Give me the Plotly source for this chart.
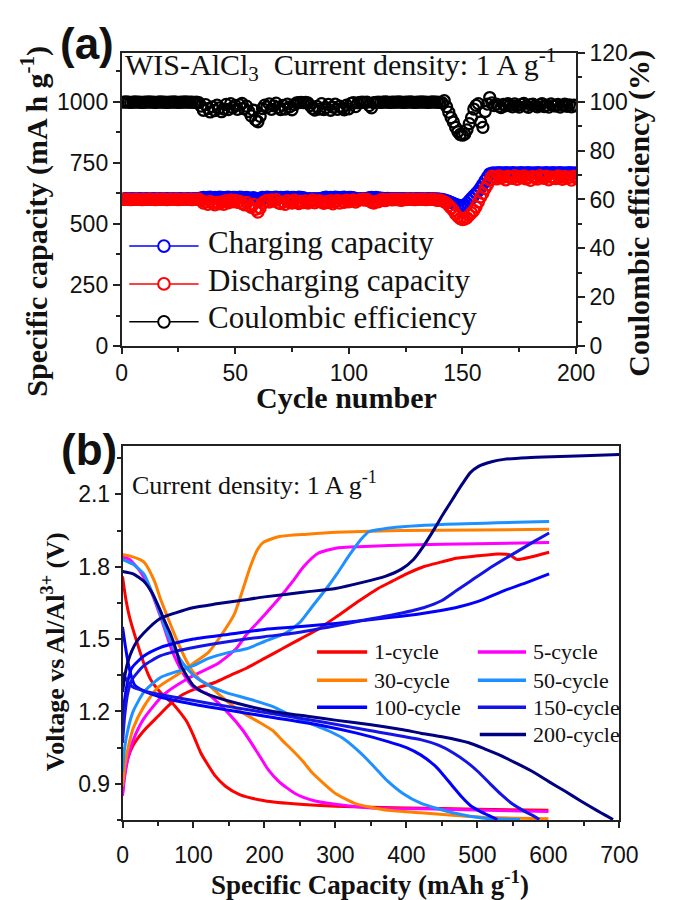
import plotly.graph_objects as go

W, H = 675, 900
def px(x): return x / W
def py(y): return 1 - y / H

# ---------------- Panel (a) data ----------------
cycles = list(range(1, 201))
charging_capacity = [
    602, 603, 602, 602, 603, 602, 602, 603, 602, 602,
    603, 602, 602, 603, 602, 602, 603, 602, 602, 603,
    602, 602, 603, 602, 602, 603, 602, 602, 603, 602,
    602, 603, 602, 603, 606, 608, 607, 608, 609, 607,
    608, 607, 609, 608, 607, 608, 609, 607, 608, 608,
    607, 609, 608, 607, 608, 606, 604, 607, 603, 600,
    605, 608, 607, 609, 608, 607, 608, 609, 607, 608,
    607, 608, 609, 607, 608, 608, 607, 609, 608, 607,
    603, 602, 603, 602, 603, 602, 603, 604, 607, 609,
    607, 608, 607, 609, 608, 607, 608, 609, 607, 608,
    608, 607, 603, 602, 603, 602, 603, 602, 607, 608,
    607, 608, 606, 605, 604, 603, 604, 603, 602, 603,
    602, 603, 602, 603, 602, 602, 603, 602, 602, 603,
    602, 603, 602, 602, 603, 602, 603, 602, 602, 601,
    600, 598, 595, 592, 588, 584, 580, 577, 575, 575,
    578, 585, 595, 605, 615, 625, 635, 648, 662, 678,
    692, 705, 708, 709, 708, 710, 709, 708, 710, 709,
    708, 710, 709, 708, 709, 710, 708, 709, 710, 708,
    709, 708, 710, 709, 708, 709, 710, 708, 709, 710,
    708, 709, 710, 708, 709, 708, 710, 709, 708, 709,
]
discharging_capacity = [
    600, 601, 600, 599, 600, 601, 600, 600, 599, 600,
    600, 601, 600, 600, 599, 600, 601, 600, 600, 599,
    600, 600, 601, 600, 599, 600, 600, 601, 600, 600,
    599, 600, 600, 601, 596, 585, 590, 580, 592, 584,
    578, 588, 582, 590, 580, 595, 586, 598, 590, 596,
    588, 592, 583, 578, 588, 575, 568, 580, 560, 548,
    565, 585, 592, 596, 589, 598, 593, 599, 586, 583,
    590, 580, 595, 588, 585, 597, 590, 583, 592, 587,
    594, 585, 590, 598, 586, 592, 595, 588, 584, 591,
    587, 595, 582, 590, 596, 585, 593, 588, 597, 590,
    594, 598, 589, 596, 599, 600, 597, 600, 594, 588,
    585, 592, 590, 598, 600, 595, 599, 600, 598, 600,
    599, 600, 596, 600, 599, 600, 601, 600, 599, 600,
    600, 601, 600, 599, 600, 600, 601, 599, 596, 598,
    595, 590, 585, 575, 565, 555, 540, 530, 522, 518,
    520, 525, 535, 545, 555, 570, 590, 610, 625, 645,
    660, 680, 695, 690, 684, 696, 688, 692, 680, 695,
    690, 686, 697, 682, 693, 688, 696, 684, 691, 678,
    694, 689, 683, 697, 690, 686, 695, 680, 692, 688,
    685, 696, 690, 682, 694, 687, 691, 679, 695, 688,
]
coulombic_efficiency = [
    99.8, 99.9, 99.8, 99.7, 99.8, 99.9, 99.8, 99.8, 99.7, 99.8,
    99.8, 99.9, 99.8, 99.8, 99.7, 99.8, 99.9, 99.8, 99.8, 99.7,
    99.8, 99.8, 99.9, 99.8, 99.7, 99.8, 99.8, 99.9, 99.8, 99.8,
    99.8, 99.7, 99.8, 99.6, 98.2, 96.5, 98.8, 97.2, 95.8, 97.9,
    96.4, 98.6, 97.5, 95.9, 97.0, 98.9, 96.8, 99.2, 97.6, 98.5,
    96.9, 98.7, 99.3, 97.1, 98.2, 96.0, 94.2, 96.5, 92.5, 91.8,
    94.0, 97.2, 98.6, 97.8, 99.1, 96.9, 98.3, 99.4, 97.7, 96.8,
    98.5, 97.0, 99.0, 97.9, 96.7, 98.8, 99.5, 99.6, 99.7, 99.6,
    99.7, 99.5, 98.4, 97.3, 96.6, 98.1, 97.0, 99.2, 96.8, 97.6,
    98.9, 96.5, 97.8, 99.0, 96.9, 98.2, 97.4, 96.7, 98.6, 97.1,
    99.3, 99.6, 98.0, 99.5, 99.7, 99.8, 99.7, 99.8, 98.4, 97.5,
    99.6, 99.7, 99.8, 99.7, 99.8, 99.9, 99.8, 99.7, 99.8, 99.8,
    99.8, 99.9, 99.8, 99.7, 99.8, 99.8, 99.9, 99.8, 99.7, 99.8,
    99.8, 99.9, 99.8, 99.8, 99.7, 99.8, 99.9, 99.8, 99.8, 99.7,
    99.6, 100.4, 98.0, 95.7, 93.5, 91.7, 89.5, 87.7, 86.6, 86.3,
    86.8, 88.5, 91.0, 93.5, 97.0, 98.5, 99.2, 91.7, 89.5, 96.0,
    99.0, 101.7, 99.5, 98.4, 99.0, 98.1, 97.6, 98.9, 98.3, 99.2,
    98.6, 97.9, 99.1, 98.4, 97.8, 98.9, 99.3, 98.2, 97.7, 98.8,
    99.0, 98.3, 97.9, 98.7, 99.2, 98.0, 98.6, 97.8, 99.1, 98.4,
    98.2, 98.9, 97.8, 98.5, 99.0, 98.1, 98.7, 97.9, 98.6, 98.3,
]

# ---------------- Panel (b) data ----------------
c1_chg_cap = [0, 3, 8, 15, 30, 50, 67, 85, 108, 130, 152, 175, 200, 225, 250, 275, 300, 334, 360, 380, 400, 424, 450, 470, 500, 528, 545, 556, 575, 601]
c1_chg_v = [0.86, 0.94, 1.01, 1.06, 1.12, 1.18, 1.23, 1.27, 1.30, 1.32, 1.35, 1.38, 1.42, 1.46, 1.50, 1.54, 1.59, 1.66, 1.71, 1.74, 1.77, 1.80, 1.82, 1.835, 1.845, 1.853, 1.85, 1.83, 1.84, 1.86]
c1_dis_cap = [0, 5, 10, 20, 30, 40, 50, 60, 70, 80, 90, 100, 110, 120, 130, 145, 165, 200, 250, 300, 400, 500, 600]
c1_dis_v = [1.76, 1.66, 1.59, 1.49, 1.40, 1.33, 1.29, 1.26, 1.235, 1.20, 1.16, 1.10, 1.03, 0.98, 0.935, 0.89, 0.855, 0.83, 0.815, 0.807, 0.80, 0.795, 0.79]

c5_chg_cap = [0, 3, 8, 15, 30, 58, 94, 135, 160, 175, 200, 221, 240, 255, 275, 302, 350, 400, 500, 601]
c5_chg_v = [0.85, 0.93, 1.01, 1.08, 1.17, 1.27, 1.34, 1.40, 1.46, 1.52, 1.60, 1.67, 1.74, 1.80, 1.855, 1.878, 1.885, 1.89, 1.895, 1.90]
c5_dis_cap = [0, 10, 25, 40, 55, 70, 85, 100, 121, 150, 170, 190, 205, 220, 243, 270, 300, 350, 450, 600]
c5_dis_v = [1.84, 1.83, 1.78, 1.70, 1.58, 1.45, 1.36, 1.30, 1.27, 1.19, 1.12, 1.03, 0.96, 0.91, 0.86, 0.83, 0.815, 0.80, 0.795, 0.785]

c30_chg_cap = [0, 3, 8, 15, 30, 50, 76, 100, 121, 140, 157, 170, 180, 190, 198, 221, 260, 302, 393, 500, 601]
c30_chg_v = [0.89, 0.97, 1.05, 1.13, 1.22, 1.30, 1.35, 1.40, 1.445, 1.52, 1.60, 1.71, 1.80, 1.87, 1.90, 1.925, 1.935, 1.943, 1.95, 1.952, 1.955]
c30_dis_cap = [0, 10, 30, 45, 53, 65, 76, 90, 99, 110, 121, 140, 166, 190, 212, 225, 239, 255, 266, 284, 300, 329, 374, 420, 465, 520, 600]
c30_dis_v = [1.85, 1.845, 1.82, 1.74, 1.67, 1.58, 1.50, 1.41, 1.365, 1.33, 1.31, 1.26, 1.20, 1.16, 1.12, 1.08, 1.04, 0.99, 0.95, 0.90, 0.86, 0.817, 0.79, 0.78, 0.77, 0.76, 0.755]

c50_chg_cap = [0, 3, 8, 15, 30, 53, 76, 100, 121, 150, 175, 200, 230, 250, 266, 290, 302, 320, 335, 347, 380, 450, 601]
c50_chg_v = [0.95, 1.05, 1.13, 1.20, 1.28, 1.34, 1.365, 1.39, 1.42, 1.445, 1.46, 1.49, 1.525, 1.57, 1.63, 1.72, 1.77, 1.85, 1.91, 1.945, 1.962, 1.975, 1.987]
c50_dis_cap = [0, 15, 30, 42, 53, 62, 71, 85, 100, 120, 144, 180, 212, 240, 265, 290, 310, 329, 345, 361, 374, 395, 420, 465, 510, 560]
c50_dis_v = [1.83, 1.81, 1.77, 1.69, 1.605, 1.53, 1.47, 1.40, 1.35, 1.31, 1.28, 1.25, 1.22, 1.18, 1.15, 1.12, 1.09, 1.045, 1.00, 0.95, 0.91, 0.86, 0.82, 0.78, 0.757, 0.752]

c100_chg_cap = [0, 3, 7, 13, 30, 53, 76, 100, 150, 200, 243, 300, 379, 420, 469, 500, 537, 570, 601]
c100_chg_v = [1.14, 1.25, 1.32, 1.38, 1.43, 1.465, 1.485, 1.50, 1.52, 1.54, 1.55, 1.565, 1.59, 1.605, 1.63, 1.655, 1.70, 1.735, 1.77]
c100_dis_cap = [0, 4, 8, 13, 17, 30, 53, 100, 150, 212, 284, 330, 374, 400, 420, 440, 451, 465, 478, 490, 501, 515, 528]
c100_dis_v = [1.55, 1.47, 1.40, 1.34, 1.31, 1.285, 1.26, 1.23, 1.205, 1.175, 1.14, 1.11, 1.075, 1.05, 1.02, 0.975, 0.94, 0.89, 0.845, 0.81, 0.79, 0.77, 0.752]

c150_chg_cap = [0, 3, 7, 13, 30, 53, 76, 100, 150, 200, 243, 300, 334, 380, 424, 450, 470, 490, 515, 540, 560, 580, 601]
c150_chg_v = [1.07, 1.18, 1.27, 1.33, 1.39, 1.43, 1.45, 1.465, 1.49, 1.51, 1.525, 1.555, 1.575, 1.60, 1.63, 1.66, 1.70, 1.74, 1.79, 1.835, 1.87, 1.905, 1.94]
c150_dis_cap = [0, 8, 15, 30, 53, 100, 150, 212, 284, 350, 420, 445, 465, 485, 501, 518, 533, 550, 564, 577, 587]
c150_dis_v = [1.36, 1.32, 1.30, 1.285, 1.27, 1.245, 1.22, 1.19, 1.155, 1.12, 1.083, 1.06, 1.03, 0.99, 0.95, 0.90, 0.857, 0.815, 0.79, 0.77, 0.752]

c200_chg_cap = [0, 4, 8, 13, 20, 30, 53, 76, 99, 130, 166, 200, 257, 300, 338, 370, 393, 410, 424, 440, 450, 465, 478, 490, 501, 520, 537, 570, 605, 650, 700]
c200_chg_v = [1.28, 1.36, 1.41, 1.45, 1.49, 1.525, 1.585, 1.61, 1.63, 1.645, 1.66, 1.675, 1.695, 1.71, 1.735, 1.76, 1.79, 1.83, 1.885, 1.96, 2.01, 2.08, 2.14, 2.19, 2.215, 2.235, 2.245, 2.252, 2.256, 2.26, 2.265]
c200_dis_cap = [0, 15, 30, 42, 53, 60, 67, 75, 81, 90, 99, 110, 121, 160, 212, 260, 302, 350, 393, 420, 450, 488, 510, 533, 555, 578, 600, 623, 645, 668, 680, 691]
c200_dis_v = [1.78, 1.77, 1.74, 1.69, 1.62, 1.57, 1.525, 1.46, 1.40, 1.35, 1.31, 1.285, 1.27, 1.235, 1.20, 1.18, 1.163, 1.145, 1.125, 1.11, 1.095, 1.07, 1.045, 1.017, 0.985, 0.95, 0.91, 0.87, 0.83, 0.79, 0.77, 0.752]

cycle_names = ["1-cycle", "5-cycle", "30-cycle", "50-cycle", "100-cycle", "150-cycle", "200-cycle"]
cycle_colors = ["#FF0000", "#FF00FF", "#FF8000", "#1E90FF", "#0000FF", "#1414E6", "#000080"]
curves = [
    (c1_chg_cap, c1_chg_v, c1_dis_cap, c1_dis_v),
    (c5_chg_cap, c5_chg_v, c5_dis_cap, c5_dis_v),
    (c30_chg_cap, c30_chg_v, c30_dis_cap, c30_dis_v),
    (c50_chg_cap, c50_chg_v, c50_dis_cap, c50_dis_v),
    (c100_chg_cap, c100_chg_v, c100_dis_cap, c100_dis_v),
    (c150_chg_cap, c150_chg_v, c150_dis_cap, c150_dis_v),
    (c200_chg_cap, c200_chg_v, c200_dis_cap, c200_dis_v),
]

SERIF = "Liberation Serif, Times New Roman, serif"
SANS = "Liberation Sans, Arial, sans-serif"
INK = "#111111"
AXC = "#222222"

fig = go.Figure()

# panel (a) traces
for name, vals, col, yax in [
    ("Charging capacity", charging_capacity, "#0000FF", "y"),
    ("Discharging capacity", discharging_capacity, "#FF0000", "y"),
    ("Coulombic efficiency", coulombic_efficiency, "#000000", "y2"),
]:
    fig.add_trace(go.Scatter(
        x=cycles, y=vals, mode="markers", name=name, xaxis="x", yaxis=yax,
        marker=dict(symbol="circle-open", size=11, color=col, line=dict(color=col, width=2.3)),
        showlegend=False,
    ))

# panel (b) traces
for name, col, (cx, cv, dx, dv) in zip(cycle_names, cycle_colors, curves):
    fig.add_trace(go.Scatter(
        x=list(cx) + [None] + list(dx), y=list(cv) + [None] + list(dv),
        mode="lines", name=name, xaxis="x2", yaxis="y3",
        line=dict(color=col, width=3, shape="spline", smoothing=0.6),
        connectgaps=False, showlegend=False,
    ))

tickfont = dict(family=SANS, size=23, color=INK)
common = dict(showline=True, linewidth=1.5, linecolor=AXC, ticks="outside", tickwidth=1.5,
              tickcolor=AXC, showgrid=False, zeroline=False, tickfont=tickfont)
minor_style = dict(ticklen=4, ticks="outside", tickcolor=AXC, tickwidth=1.5)

fig.update_layout(
    width=W, height=H, margin=dict(l=0, r=0, t=0, b=0),
    paper_bgcolor="white", plot_bgcolor="white", showlegend=False,
    xaxis=dict(domain=[px(120), px(592)], range=[0, 200], tickvals=[0, 50, 100, 150, 200],
               ticklen=6, minor=dict(tickvals=[25, 75, 125, 175], **minor_style),
               mirror=True, anchor="y", **common),
    yaxis=dict(domain=[py(343), py(41)], range=[0, 1200], tickvals=[0, 250, 500, 750, 1000],
               ticklen=7, minor=dict(tickvals=[125, 375, 625, 875, 1125], **minor_style),
               anchor="x", **common),
    yaxis2=dict(overlaying="y", side="right", anchor="x", range=[0, 120], tickvals=[0, 20, 40, 60, 80, 100, 120],
                ticklen=7, minor=dict(tickvals=[10, 30, 50, 70, 90, 110], **minor_style),
                **common),
    xaxis2=dict(domain=[px(121), px(637)], range=[0, 700], tickvals=[0, 100, 200, 300, 400, 500, 600, 700],
                ticklen=6, ticklabelstandoff=8, minor=dict(tickvals=[50, 150, 250, 350, 450, 550, 650], **minor_style),
                mirror=True, anchor="y3", **common),
    yaxis3=dict(domain=[py(831), py(446)], range=[0.75, 2.3], tickvals=[0.9, 1.2, 1.5, 1.8, 2.1],
                ticklen=6, minor=dict(tickvals=[0.75, 1.05, 1.35, 1.65, 1.95, 2.25], **minor_style),
                mirror=True, anchor="x2", **common),
)

ann = []
def text(x, y, s, size, family=SERIF, xanchor="center", angle=0):
    ann.append(dict(x=px(x), y=py(y), xref="paper", yref="paper", text=s, showarrow=False,
                    xanchor=xanchor, yanchor="middle", textangle=angle,
                    font=dict(family=family, size=size, color=INK)))

text(84, 31, "<b>(a)</b>", 44, SANS)
text(86, 449, "<b>(b)</b>", 44, SANS)
text(122, 53, "WIS-AlCl<sub>3</sub>  Current density: 1 A g<sup>-1</sup>", 30, xanchor="left")
text(30, 214, "<b>Specific capacity (mA h g<sup>-1</sup>)</b>", 30, angle=-90)
text(657, 206, "<b>Coulombic efficiency (%)</b>", 30, angle=-90)
text(354, 396, "<b>Cycle number</b>", 30)
text(129, 485, "Current density: 1 A g<sup>-1</sup>", 26, xanchor="left")
text(50, 658, "<b>Voltage vs Al/Al<sup>3+</sup> (V)</b>", 26, angle=-90)
text(378, 896, "<b>Specific Capacity (mAh g<sup>-1</sup>)</b>", 27)

shapes = []
# legend (a)
leg_a = [("Charging capacity", "#0000FF", 240), ("Discharging capacity", "#FF0000", 279), ("Coulombic efficiency", "#000000", 318)]
for lab, col, yy in leg_a:
    shapes.append(dict(type="line", xref="paper", yref="paper", x0=px(128), x1=px(200), y0=py(yy), y1=py(yy),
                       line=dict(color=col, width=1.5)))
    shapes.append(dict(type="circle", xref="paper", yref="paper", x0=px(158), x1=px(170), y0=py(yy + 6), y1=py(yy - 6),
                       fillcolor="white", line=dict(color=col, width=2)))
    text(208, yy - 4, lab, 31, xanchor="left")

# legend (b)
leg_pos = [(323, 375, 380, 658), (490, 540, 545, 658), (323, 375, 380, 687), (490, 540, 545, 687),
           (323, 375, 380, 715), (490, 540, 545, 715), (492, 540, 545, 743)]
for (x0, x1, xt, yy), lab, col in zip(leg_pos, cycle_names, cycle_colors):
    shapes.append(dict(type="line", xref="paper", yref="paper", x0=px(x0), x1=px(x1), y0=py(yy), y1=py(yy),
                       line=dict(color=col, width=3.5)))
    text(xt, yy, lab, 22, xanchor="left")

fig.update_layout(annotations=ann, shapes=shapes)
fig.write_html("out.html", config={"displayModeBar": False})
